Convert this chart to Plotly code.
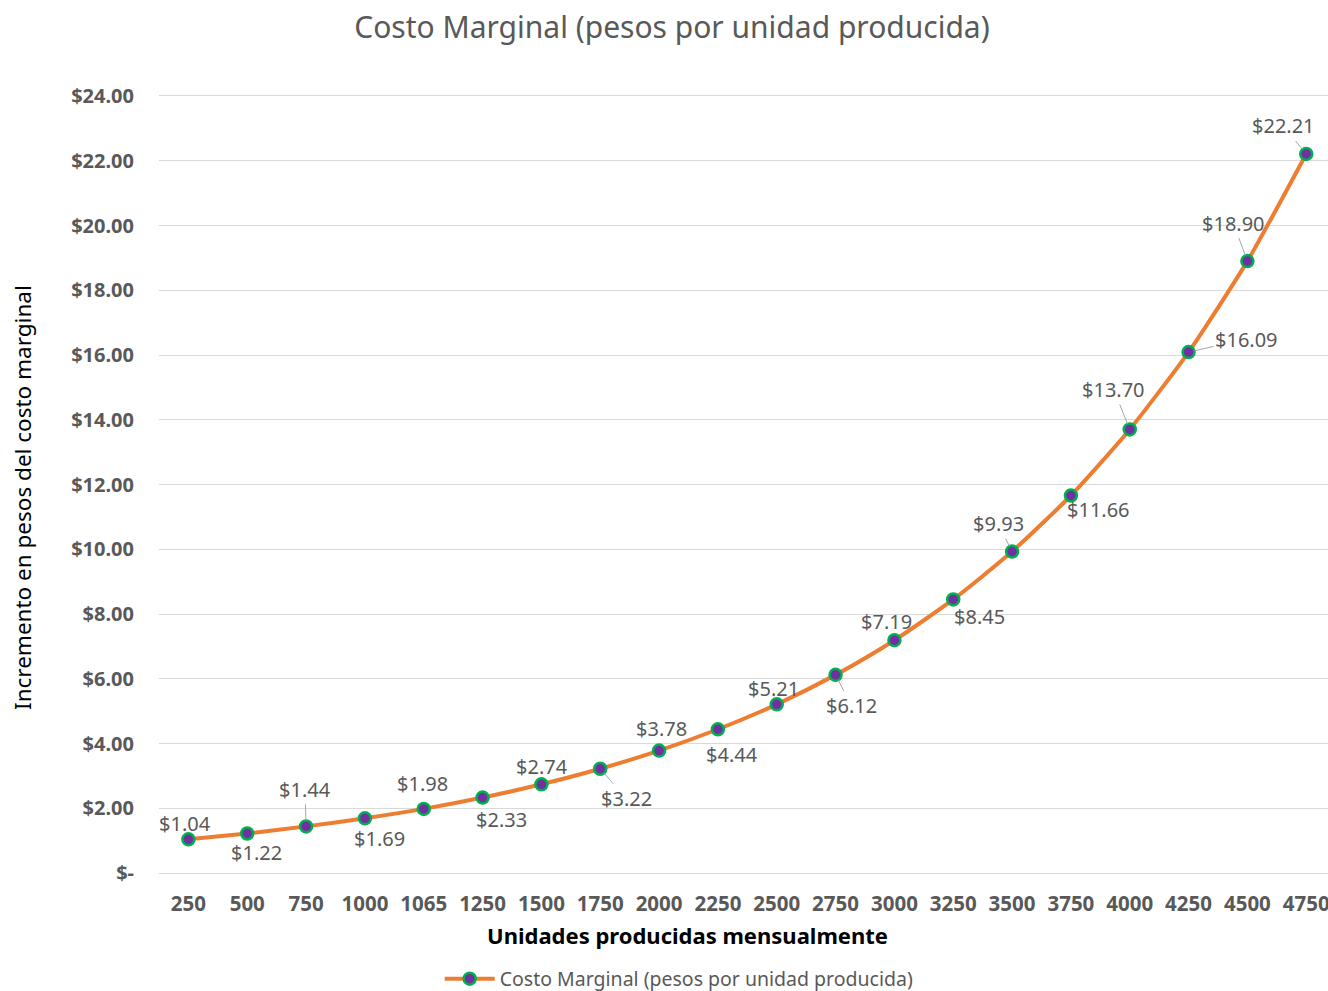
import plotly.graph_objects as go

# Units produced per month (category axis) and marginal cost per unit
unidades = ["250", "500", "750", "1000", "1065", "1250", "1500", "1750", "2000", "2250",
            "2500", "2750", "3000", "3250", "3500", "3750", "4000", "4250", "4500", "4750"]
costo_marginal = [1.04, 1.22, 1.44, 1.69, 1.98, 2.33, 2.74, 3.22, 3.78, 4.44,
                  5.21, 6.12, 7.19, 8.45, 9.93, 11.66, 13.70, 16.09, 18.90, 22.21]

y_tick_vals = [0, 2, 4, 6, 8, 10, 12, 14, 16, 18, 20, 22, 24]
y_tick_text = ["$-", "$2.00", "$4.00", "$6.00", "$8.00", "$10.00", "$12.00", "$14.00",
               "$16.00", "$18.00", "$20.00", "$22.00", "$24.00"]

# Placement of each data label (pixel offset of label centre from its point)
# and whether a leader line joins label and point
label_offsets = [(-3, -16), (9, 19), (-1, -37), (15, 20), (-1, -25), (19, 22), (1, -18),
                 (26, 30), (2, -22), (14, 25), (-3, -16), (16, 31), (-8, -19), (26, 17),
                 (-14, -28), (28, 14), (-16, -40), (58, -13), (-14, -38), (-23, -28)]
leader = [False, False, True, False, False, False, False, True, False, False,
          False, True, False, False, True, False, True, True, True, True]

FONT = "Noto Sans"
TITLE = "Costo Marginal (pesos por unidad producida)"

fig = go.Figure()
fig.add_trace(go.Scatter(
    x=unidades, y=costo_marginal, mode="lines+markers",
    name=TITLE,
    line=dict(color="#ED7D31", width=4, shape="spline", smoothing=0.6),
    marker=dict(size=12, color="#7030A0", line=dict(color="#00B050", width=2.5)),
    cliponaxis=False,
))

annotations = []
for i, val in enumerate(costo_marginal):
    dx, dy = label_offsets[i]
    annotations.append(dict(
        x=i, y=val, xref="x", yref="y",
        text=f"${val:.2f}",
        showarrow=True, ax=dx, ay=dy,
        arrowhead=0, arrowwidth=1,
        arrowcolor="#A6A6A6" if leader[i] else "rgba(0,0,0,0)",
        standoff=6,
        font=dict(family=FONT, size=20, color="#595959"),
    ))

# Axis titles
annotations.append(dict(
    text="Unidades producidas mensualmente", xref="paper", yref="paper",
    x=(687 - 159) / 1169, y=-(935 - 873) / 777, xanchor="center", yanchor="middle",
    showarrow=False, font=dict(family=FONT, size=22, color="#000000", weight="bold"),
))
annotations.append(dict(
    text="Incremento en pesos del costo marginal", xref="paper", yref="paper",
    x=(22 - 159) / 1169, y=(873 - 498) / 777, xanchor="center", yanchor="middle",
    textangle=-90, showarrow=False, font=dict(family=FONT, size=22.5, color="#000000"),
))

fig.update_layout(
    width=1328, height=991,
    margin=dict(l=159, r=0, t=96, b=118, autoexpand=False),
    paper_bgcolor="white", plot_bgcolor="white",
    title=dict(text=TITLE, x=0.506, xanchor="center", y=1 - 27 / 991, yanchor="middle",
               font=dict(family=FONT, size=30, color="#595959")),
    showlegend=True,
    legend=dict(orientation="h", x=0.445, xanchor="center", y=-(979 - 873) / 777,
                yanchor="middle", font=dict(family=FONT, size=19.5, color="#595959"),
                bgcolor="rgba(0,0,0,0)", itemwidth=50),
    annotations=annotations,
)

fig.update_xaxes(
    type="category", range=[-0.5, 19.37],
    showgrid=False, zeroline=False, ticks="",
    showline=True, linecolor="#D9D9D9", linewidth=1, mirror=True,
    ticklabelstandoff=12,
    tickfont=dict(family=FONT, size=20.5, color="#595959", weight="bold"),
)
fig.update_yaxes(
    range=[0, 24], tickvals=y_tick_vals, ticktext=y_tick_text,
    showgrid=True, gridcolor="#D9D9D9", gridwidth=1, zeroline=False, showline=False,
    ticks="", ticklabelstandoff=24,
    tickfont=dict(family=FONT, size=20, color="#595959", weight="bold"),
)

fig.write_html("out.html")
